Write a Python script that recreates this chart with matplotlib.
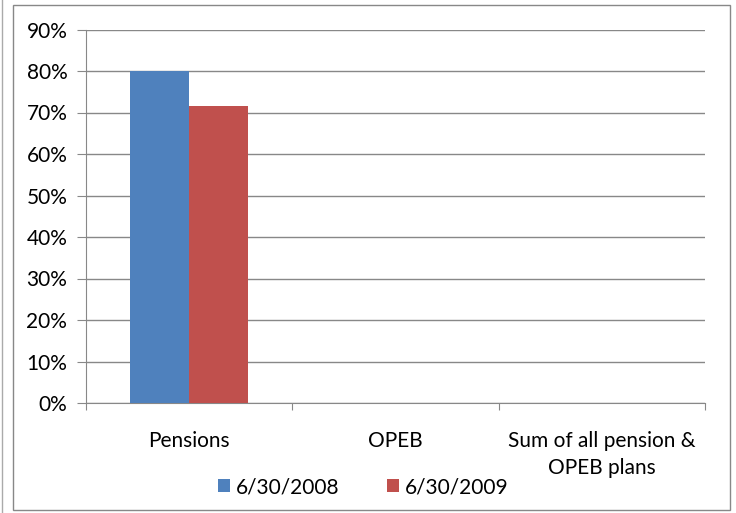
import numpy as np
import matplotlib
matplotlib.use("Agg")
import matplotlib.pyplot as plt
from matplotlib.patches import Rectangle
from matplotlib.lines import Line2D

categories = ["Pensions", "OPEB", "Sum of all pension &\nOPEB plans"]
series_names = ["6/30/2008", "6/30/2009"]
funded_2008 = [0.80, np.nan, np.nan]
funded_2009 = [0.715, np.nan, np.nan]
colors = ["#4F81BD", "#C0504D"]

plt.rcParams["font.family"] = ["Lato", "DejaVu Sans"]
fs = 15

fig = plt.figure(figsize=(7.36, 5.13), dpi=100)
W, H = 736, 513
ax = fig.add_axes([86 / W, (H - 403) / H, (705 - 86) / W, (403 - 29.5) / H])

x = np.arange(len(categories))
bw = 0.286
ax.bar(x - bw / 2, funded_2008, bw, color=colors[0], label=series_names[0], zorder=3)
ax.bar(x + bw / 2, funded_2009, bw, color=colors[1], label=series_names[1], zorder=3)

ax.set_xlim(-0.5, len(categories) - 0.5)
ax.set_ylim(0, 0.9)
ax.set_yticks(np.arange(0, 0.91, 0.1))
ax.set_yticklabels([f"{int(round(v * 100))}%" for v in np.arange(0, 0.91, 0.1)], fontsize=fs)
ax.yaxis.grid(True, color="#888888", linewidth=1, zorder=0)

ax.set_xticks(np.arange(-0.5, len(categories), 1))
ax.set_xticklabels([])
ax.set_xticks(x, minor=True)
ax.set_xticklabels(categories, minor=True, fontsize=fs, va="top", linespacing=1.45)
ax.tick_params(axis="x", which="minor", length=0, pad=20)
ax.tick_params(axis="x", which="major", length=5, color="#888888", direction="out")
ax.tick_params(axis="y", length=6.5, color="#888888", direction="out", pad=7)

for s in ["top", "right"]:
    ax.spines[s].set_visible(False)
for s in ["left", "bottom"]:
    ax.spines[s].set_color("#888888")

fig.legend(loc="center", bbox_to_anchor=(363 / W, (H - 487) / H), ncol=2,
           frameon=False, fontsize=fs, handlelength=0.6, handleheight=0.6,
           handletextpad=0.25, columnspacing=2.3)

# chart border
fig.patches.append(Rectangle((13 / W, (H - 510) / H), (730 - 13) / W, (510 - 5) / H,
                             transform=fig.transFigure, fill=False,
                             edgecolor="#888888", linewidth=1))
fig.lines.append(Line2D([1.5 / W, 1.5 / W], [0, 1], transform=fig.transFigure,
                        color="#aaaaaa", linewidth=1))

fig.savefig("out.png", dpi=100)
